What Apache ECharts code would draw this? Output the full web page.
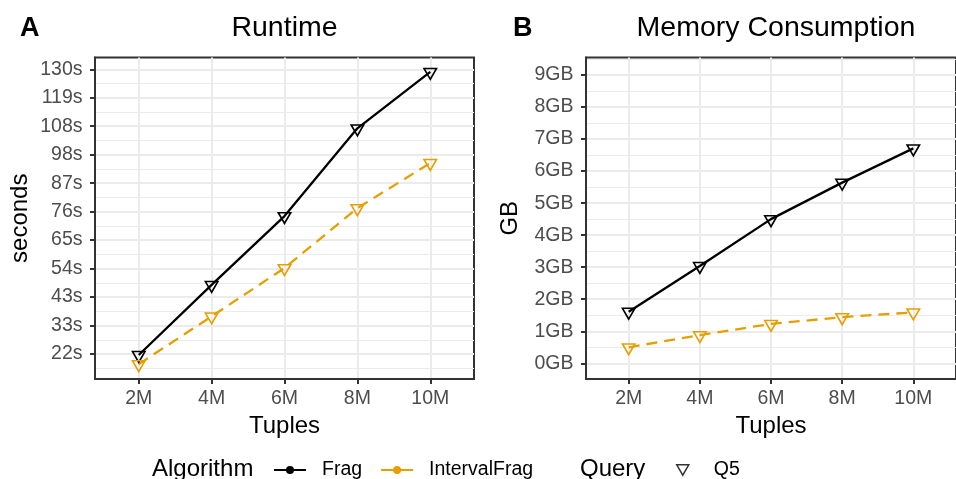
<!DOCTYPE html>
<html>
<head>
<meta charset="utf-8">
<script src="https://cdn.jsdelivr.net/npm/echarts@6/dist/echarts.min.js"></script>
<style>
  html, body { margin: 0; padding: 0; background: #fff; }
  #chart { width: 956px; height: 479px; }
</style>
</head>
<body>
<div id="chart"></div>
<script>
// data
const tuples = [2, 4, 6, 8, 10];
const runtimeFrag = [21.3, 48.0, 74.2, 107.6, 129.1];
const runtimeInterval = [17.8, 36.0, 54.4, 77.2, 94.4];
const memoryFrag = [1.61, 3.04, 4.50, 5.64, 6.71];
const memoryInterval = [0.50, 0.88, 1.23, 1.44, 1.59];

// tick positions / labels
const runtimeTicks = [21.68, 32.52, 43.36, 54.2, 65.04, 75.88, 86.72, 97.56, 108.4, 119.24, 130.08];
const runtimeTickLabels = ['22s', '33s', '43s', '54s', '65s', '76s', '87s', '98s', '108s', '119s', '130s'];
const memoryTicks = [0, 1, 2, 3, 4, 5, 6, 7, 8, 9];
const memoryTickLabels = ['0GB', '1GB', '2GB', '3GB', '4GB', '5GB', '6GB', '7GB', '8GB', '9GB'];
const tupleTickLabels = ['2M', '4M', '6M', '8M', '10M'];

const FONT = '"Liberation Sans", Arial, Helvetica, sans-serif';
const BLACK = '#000000';
const ORANGE = '#E69F00';

// minor grid lines sit half way between the major ones
function midpoints(ticks) {
  const step = ticks[1] - ticks[0];
  const res = [ticks[0] - step / 2];
  ticks.forEach(t => res.push(t + step / 2));
  return res;
}

function labelFor(ticks, labels) {
  return function (v) {
    for (let i = 0; i < ticks.length; i++) {
      if (Math.abs(ticks[i] - v) < 1e-6) return labels[i];
    }
    return '';
  };
}

function xAxis(gridIndex) {
  return {
    type: 'value', gridIndex: gridIndex, min: 0.8, max: 11.2,
    name: 'Tuples', nameLocation: 'middle', nameGap: 34,
    nameTextStyle: {fontSize: 24, color: BLACK, fontFamily: FONT},
    axisLine: {show: true, onZero: false, lineStyle: {color: '#333333', width: 2}},
    axisTick: {show: true, length: 5, customValues: tuples, lineStyle: {color: '#333333', width: 2}},
    axisLabel: {customValues: tuples, formatter: labelFor(tuples, tupleTickLabels),
      color: '#4D4D4D', fontSize: 19.5, fontFamily: FONT, margin: 10},
    splitLine: {show: true, lineStyle: {color: '#EBEBEB', width: 2}}
  };
}

function yMajor(gridIndex, min, max, ticks, labels, name, gap) {
  return {
    type: 'value', gridIndex: gridIndex, min: min, max: max, position: 'left',
    name: name, nameLocation: 'middle', nameGap: gap,
    nameTextStyle: {fontSize: 24, color: BLACK, fontFamily: FONT},
    axisLine: {show: true, onZero: false, lineStyle: {color: '#333333', width: 2}},
    axisTick: {show: true, length: 5, customValues: ticks, lineStyle: {color: '#333333', width: 2}},
    axisLabel: {customValues: ticks, formatter: labelFor(ticks, labels),
      color: '#4D4D4D', fontSize: 19.5, fontFamily: FONT, margin: 12.5},
    splitLine: {show: true, lineStyle: {color: '#EBEBEB', width: 2}}
  };
}

function yMinor(gridIndex, min, max, ticks) {
  return {
    type: 'value', gridIndex: gridIndex, min: min, max: max, position: 'left',
    axisLine: {show: false, onZero: false},
    axisTick: {show: false, customValues: midpoints(ticks)},
    axisLabel: {show: false},
    splitLine: {show: true, lineStyle: {color: '#EBEBEB', width: 1.1}}
  };
}

function dataSeries(name, axisIndex, values, color, dashed) {
  return {
    type: 'line', name: name,
    xAxisIndex: axisIndex, yAxisIndex: axisIndex * 2,
    data: tuples.map((t, i) => [t, values[i]]),
    symbol: 'triangle', symbolRotate: 180, symbolSize: [12.5, 10.8], symbolOffset: [0, 2],
    itemStyle: {color: 'transparent', borderColor: color, borderWidth: 1.6},
    lineStyle: {color: color, width: 2.3, type: dashed ? [11, 7] : 'solid'},
    emphasis: {disabled: true},
    z: 3
  };
}

const chart = echarts.init(document.getElementById('chart'));

const option = {
  animation: false,
  backgroundColor: '#ffffff',
  textStyle: {fontFamily: FONT},
  grid: [
    {left: 95, top: 57.5, width: 379, height: 321.5, show: true, borderColor: '#333333', borderWidth: 2},
    {left: 586, top: 57.5, width: 380, height: 321.5, show: true, borderColor: '#333333', borderWidth: 2}
  ],
  xAxis: [xAxis(0), xAxis(1)],
  yAxis: [
    yMajor(0, 12.16, 134.57, runtimeTicks, runtimeTickLabels, 'seconds', 63),
    yMinor(0, 12.16, 134.57, runtimeTicks),
    yMajor(1, -0.49, 9.546, memoryTicks, memoryTickLabels, 'GB', 64),
    yMinor(1, -0.49, 9.546, memoryTicks)
  ],
  legend: [
    {
      left: 273, top: 460, padding: 0, itemWidth: 32, itemHeight: 10, itemGap: 18,
      selectedMode: false,
      data: ['Frag', 'IntervalFrag'],
      textStyle: {fontSize: 19.5, color: BLACK, fontFamily: FONT, padding: [0, 0, 0, 11]}
    },
    {
      left: 676, top: 460, padding: 0, itemWidth: 12, itemHeight: 10.4,
      selectedMode: false,
      data: [{name: 'Q5', icon: 'path://M0,0L12,0L6,10.4Z',
        itemStyle: {color: 'transparent', borderColor: BLACK, borderWidth: 1.5}}],
      textStyle: {fontSize: 19.5, color: BLACK, fontFamily: FONT, padding: [0, 0, 0, 20]}
    }
  ],
  graphic: [
    {type: 'text', x: 20, y: 29, style: {text: 'A', fontSize: 27, fontWeight: 'bold', fontFamily: FONT, fill: BLACK, align: 'left', verticalAlign: 'middle'}},
    {type: 'text', x: 513, y: 29, style: {text: 'B', fontSize: 27, fontWeight: 'bold', fontFamily: FONT, fill: BLACK, align: 'left', verticalAlign: 'middle'}},
    {type: 'text', x: 284.5, y: 28.5, style: {text: 'Runtime', fontSize: 28.5, fontFamily: FONT, fill: BLACK, align: 'center', verticalAlign: 'middle'}},
    {type: 'text', x: 776, y: 28.5, style: {text: 'Memory Consumption', fontSize: 28.5, fontFamily: FONT, fill: BLACK, align: 'center', verticalAlign: 'middle'}},
    {type: 'text', x: 152, y: 469, style: {text: 'Algorithm', fontSize: 24, fontFamily: FONT, fill: BLACK, align: 'left', verticalAlign: 'middle'}},
    {type: 'text', x: 580, y: 469, style: {text: 'Query', fontSize: 24, fontFamily: FONT, fill: BLACK, align: 'left', verticalAlign: 'middle'}}
  ],
  series: [
    // legend-only entries (line + dot keys, triangle key)
    {type: 'line', name: 'Frag', data: [], xAxisIndex: 0, yAxisIndex: 0, symbol: 'circle',
      itemStyle: {color: BLACK}, lineStyle: {color: BLACK, width: 2.3}},
    {type: 'line', name: 'IntervalFrag', data: [], xAxisIndex: 0, yAxisIndex: 0, symbol: 'circle',
      itemStyle: {color: ORANGE}, lineStyle: {color: ORANGE, width: 2.3}},
    {type: 'scatter', name: 'Q5', data: [], xAxisIndex: 0, yAxisIndex: 0},

    dataSeries('Frag', 0, runtimeFrag, BLACK, false),
    dataSeries('IntervalFrag', 0, runtimeInterval, ORANGE, true),
    dataSeries('Frag', 1, memoryFrag, BLACK, false),
    dataSeries('IntervalFrag', 1, memoryInterval, ORANGE, true)
  ]
};

chart.setOption(option);
</script>
</body>
</html>
